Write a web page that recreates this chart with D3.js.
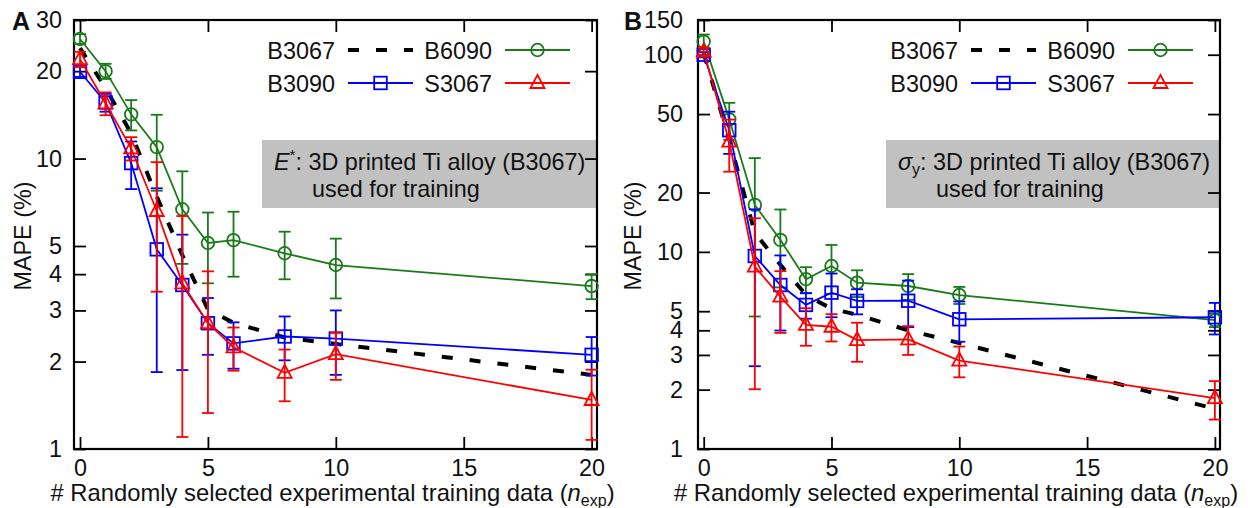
<!DOCTYPE html>
<html><head><meta charset="utf-8">
<script src="https://cdn.jsdelivr.net/npm/d3@7"></script>
<style>
body{margin:0;background:#fff}
svg text{font-family:"Liberation Sans",Arial,Helvetica,sans-serif;fill:#111}
</style>
</head><body>
<svg id="chart" width="1248" height="508"></svg>
<script>
// ---------- data ----------
const nExp = [0, 1, 2, 3, 4, 5, 6, 8, 10, 20];
const xTicks = [0, 5, 10, 15, 20];
const seriesNames = ["B3067", "B6090", "B3090", "S3067"];
const seriesColors = ["#000000", "#1a7a1a", "#0000ff", "#ff0000"];

// Panel A : E*
const yTicksA = [1, 2, 3, 4, 5, 10, 20, 30];
const A_B3067 = [24.0, 17.5, 12.2, 7.4, 4.65, 3.02, 2.72, 2.42, 2.30, 1.80];
const A_B6090 = [25.8, 20.0, 14.2, 10.95, 6.69, 5.12, 5.24, 4.72, 4.30, 3.64];
const A_B6090_err = [1.0, 1.2, 1.7, 3.2, 2.35, 1.4, 1.32, 0.88, 1.0, 0.36];
const A_B3090 = [19.9, 15.6, 9.65, 4.87, 3.67, 2.71, 2.31, 2.44, 2.40, 2.11];
const A_B3090_err = [0.8, 1.1, 1.8, 3.03, 1.8, 0.6, 0.42, 0.42, 0.6, 0.32];
const A_S3067 = [22.0, 15.5, 10.85, 6.6, 3.72, 2.71, 2.24, 1.83, 2.12, 1.475];
const A_S3067_err = [1.3, 1.4, 1.0, 3.12, 2.62, 1.38, 0.38, 0.37, 0.39, 0.4];

// Panel B : sigma_y
const yTicksB = [1, 2, 3, 4, 5, 10, 20, 50, 100, 150];
const B_B3067 = [102, 37, 12.5, 8.6, 6.05, 5.15, 4.8, 4.0, 3.45, 1.6];
const B_B6090 = [116.6, 47, 17.3, 11.5, 7.26, 8.48, 6.98, 6.71, 6.04, 4.5];
const B_B6090_err = [10, 10, 12.6, 4.9, 1.1, 2.36, 1.08, 1.0, 0.6, 0.35];
const B_B3090 = [100, 41.4, 9.53, 6.79, 5.38, 6.21, 5.64, 5.65, 4.55, 4.66];
const B_B3090_err = [3, 10, 6.9, 2.8, 0.8, 1.55, 0.82, 1.5, 1.05, 0.85];
const B_S3067 = [103.7, 36.2, 8.41, 5.93, 4.26, 4.17, 3.57, 3.60, 2.81, 1.81];
const B_S3067_err = [5, 10.7, 6.4, 2.05, 0.92, 0.66, 0.8, 0.6, 0.5, 0.4];

// ---------- drawing ----------
const svg = d3.select("#chart");
const FS = 23.4;

function marker(g, type, cx, cy, color) {
  if (type === "circle") {
    g.append("circle").attr("cx", cx).attr("cy", cy).attr("r", 6.3)
      .attr("fill", "none").attr("stroke", color).attr("stroke-width", 1.8);
  } else if (type === "square") {
    g.append("rect").attr("x", cx - 6.3).attr("y", cy - 6.3).attr("width", 12.6).attr("height", 12.6)
      .attr("fill", "none").attr("stroke", color).attr("stroke-width", 1.8);
  } else if (type === "triangle") {
    g.append("path").attr("d", `M${cx},${cy - 8}L${cx + 7},${cy + 5}L${cx - 7},${cy + 5}Z`)
      .attr("fill", "none").attr("stroke", color).attr("stroke-width", 1.8);
  }
}

function drawPanel(cfg) {
  const g = svg.append("g");
  const top = 20, bottom = 449;
  const x = d3.scaleLinear().domain(cfg.xDomain).range([cfg.left, cfg.right]);
  const y = d3.scaleLog().domain(cfg.yDomain).range([bottom, top]);

  // grey annotation box
  g.append("rect").attr("x", cfg.boxX).attr("y", 140)
    .attr("width", cfg.right - cfg.boxX - 1).attr("height", 68).attr("fill", "#c1c1c1");
  const t1 = g.append("text").attr("x", cfg.boxX + 12).attr("y", 170).attr("font-size", FS);
  cfg.boxTitle(t1);
  g.append("text").attr("x", cfg.boxX + 50).attr("y", 197).attr("font-size", FS).text("used for training");

  // axes
  const styleAxis = sel => {
    sel.select(".domain").remove();
    sel.selectAll("line").attr("stroke", "#000").attr("stroke-width", 1.8);
    sel.attr("font-size", FS).attr("font-family", '"Liberation Sans",Arial,sans-serif');
    sel.selectAll("text").attr("fill", "#111");
  };
  g.append("g").attr("transform", `translate(${cfg.left},0)`)
    .call(d3.axisLeft(y).tickValues(cfg.yTicks).tickFormat(d3.format("d")).tickSize(-12).tickPadding(12 + cfg.yPad))
    .call(styleAxis);
  g.append("g").attr("transform", `translate(${cfg.right},0)`)
    .call(d3.axisRight(y).tickValues(cfg.yTicks).tickFormat("").tickSize(-12))
    .call(styleAxis);
  g.append("g").attr("transform", `translate(0,${bottom})`)
    .call(d3.axisBottom(x).tickValues(xTicks).tickFormat(d3.format("d")).tickSize(-12).tickPadding(10))
    .call(styleAxis);
  g.append("g").attr("transform", `translate(0,${top})`)
    .call(d3.axisTop(x).tickValues(xTicks).tickFormat("").tickSize(-12))
    .call(styleAxis);
  g.append("rect").attr("x", cfg.left).attr("y", top).attr("width", cfg.right - cfg.left)
    .attr("height", bottom - top).attr("fill", "none").attr("stroke", "#000").attr("stroke-width", 2.2);

  // axis titles
  const xl = g.append("text").attr("x", (cfg.left + cfg.right) / 2 - 3).attr("y", 501)
    .attr("text-anchor", "middle").attr("font-size", FS + 0.4);
  xl.append("tspan").text("# Randomly selected experimental training data (");
  xl.append("tspan").attr("font-style", "italic").text("n");
  xl.append("tspan").attr("font-size", 16).attr("dy", 5).text("exp");
  xl.append("tspan").attr("dy", -5).text(")");
  g.append("text").attr("transform", `translate(${cfg.yLabelX},236) rotate(-90)`)
    .attr("text-anchor", "middle").attr("font-size", FS).text("MAPE (%)");
  g.append("text").attr("x", cfg.letterX).attr("y", 30).attr("font-size", 25)
    .attr("font-weight", "bold").text(cfg.letter);

  // series
  const line = d3.line().x(d => x(d[0])).y(d => y(d[1]));
  const markers = [null, "circle", "square", "triangle"];
  cfg.series.forEach((s, i) => {
    const col = seriesColors[i];
    const pts = nExp.map((n, j) => [n, s.v[j]]);
    const sg = g.append("g");
    if (i === 0) {
      sg.append("path").attr("d", line(pts)).attr("fill", "none").attr("stroke", col)
        .attr("stroke-width", 4).attr("stroke-dasharray", "11,17");
      return;
    }
    sg.append("path").attr("d", line(pts)).attr("fill", "none").attr("stroke", col).attr("stroke-width", 1.8);
    pts.forEach((p, j) => {
      const e = s.e[j];
      const yTop = y(p[1] + e), yBot = y(Math.max(p[1] - e, cfg.yDomain[0] * 0.5));
      const cx = x(p[0]);
      sg.append("line").attr("x1", cx).attr("x2", cx).attr("y1", yTop).attr("y2", Math.min(yBot, bottom))
        .attr("stroke", col).attr("stroke-width", 1.8);
      sg.append("line").attr("x1", cx - 6).attr("x2", cx + 6).attr("y1", yTop).attr("y2", yTop)
        .attr("stroke", col).attr("stroke-width", 1.8);
      if (yBot <= bottom)
        sg.append("line").attr("x1", cx - 6).attr("x2", cx + 6).attr("y1", yBot).attr("y2", yBot)
          .attr("stroke", col).attr("stroke-width", 1.8);
      marker(sg, markers[i], cx, y(p[1]), col);
    });
  });

  // legend
  const off = cfg.right - 597;
  const legPos = [[335, 50], [492, 50], [335, 83], [492, 83]];
  seriesNames.forEach((name, i) => {
    const [tx, ty] = legPos[i];
    const col = seriesColors[i];
    g.append("text").attr("x", tx + off).attr("y", ty + 9).attr("text-anchor", "end")
      .attr("font-size", FS).text(name);
    const x1 = tx + off + 13, x2 = tx + off + 78;
    if (i === 0) {
      g.append("line").attr("x1", x1).attr("x2", x2).attr("y1", ty).attr("y2", ty)
        .attr("stroke", col).attr("stroke-width", 4).attr("stroke-dasharray", "11,17");
    } else {
      g.append("line").attr("x1", x1).attr("x2", x2).attr("y1", ty).attr("y2", ty)
        .attr("stroke", col).attr("stroke-width", 1.8);
      marker(g, markers[i], (x1 + x2) / 2, ty, col);
    }
  });
}

drawPanel({
  letter: "A", letterX: 12, yLabelX: 31,
  left: 74, right: 597, xDomain: [-0.235, 20.21], yDomain: [1, 30], yTicks: yTicksA, yPad: 0,
  boxX: 262,
  boxTitle: t => {
    t.append("tspan").attr("font-style", "italic").text("E");
    t.append("tspan").attr("font-size", 15).attr("dy", -10).text("*");
    t.append("tspan").attr("dy", 10).text(": 3D printed Ti alloy (B3067)");
  },
  series: [{v: A_B3067}, {v: A_B6090, e: A_B6090_err}, {v: A_B3090, e: A_B3090_err}, {v: A_S3067, e: A_S3067_err}]
});
drawPanel({
  letter: "B", letterX: 624, yLabelX: 641,
  left: 698, right: 1220, xDomain: [-0.223, 20.2], yDomain: [1, 150], yTicks: yTicksB, yPad: 3,
  boxX: 886,
  boxTitle: t => {
    t.append("tspan").attr("font-style", "italic").text("σ");
    t.append("tspan").attr("font-size", 16).attr("dy", 5).text("y");
    t.append("tspan").attr("dy", -5).text(": 3D printed Ti alloy (B3067)");
  },
  series: [{v: B_B3067}, {v: B_B6090, e: B_B6090_err}, {v: B_B3090, e: B_B3090_err}, {v: B_S3067, e: B_S3067_err}]
});
</script>
</body></html>
